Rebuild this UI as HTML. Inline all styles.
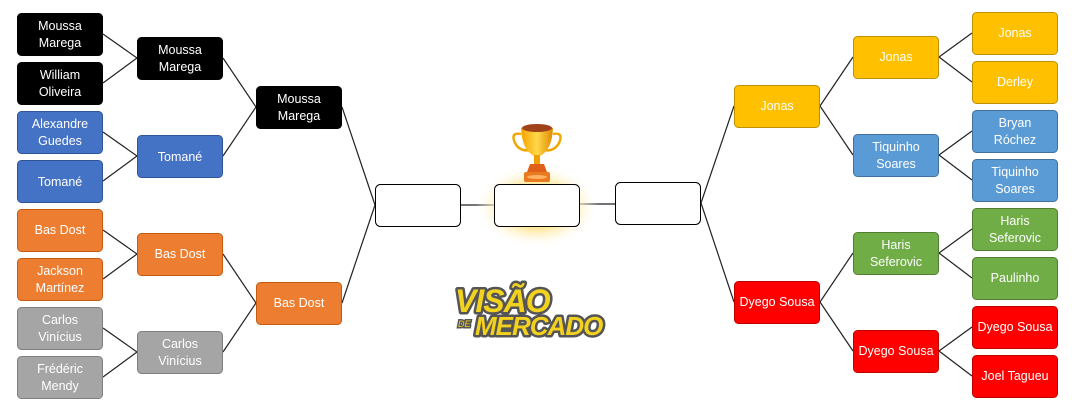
<!DOCTYPE html>
<html><head><meta charset="utf-8"><style>
html,body{margin:0;padding:0;background:#fff;width:1072px;height:414px;overflow:hidden}
svg text{font-family:"Liberation Sans",sans-serif;font-size:12.5px;fill:#fff;text-anchor:middle}
</style></head><body>
<svg width="1072" height="414" viewBox="0 0 1072 414" xmlns="http://www.w3.org/2000/svg">
<defs>
<radialGradient id="glow" cx="0.5" cy="0.5" r="0.5"><stop offset="0.55" stop-color="#ffe9a0"/><stop offset="1" stop-color="#fff" stop-opacity="0"/></radialGradient>
<linearGradient id="gold" x1="0" x2="1"><stop offset="0" stop-color="#f5a300"/><stop offset="0.5" stop-color="#ffd84a"/><stop offset="1" stop-color="#e08a00"/></linearGradient>
</defs>
<g stroke="#222" stroke-width="1.2" fill="none">
<path d="M103 34L137 58M103 83L137 58M103 132L137 156M103 181L137 156M103 230L137 254M103 279L137 254M103 328L137 352M103 377L137 352"/>
<path d="M223 58L256 107M223 156L256 107M223 254L256 303M223 352L256 303"/>
<path d="M342 107L375 205M342 303L375 205M461 205L494 205M580 204L615 204"/>
<path d="M972 33L939 57M972 82L939 57M972 131L939 155M972 180L939 155M972 229L939 253M972 278L939 253M972 327L939 351M972 376L939 351"/>
<path d="M853 57L820 106M853 155L820 106M853 253L820 302M853 351L820 302"/>
<path d="M734 106L701 203M734 302L701 203"/>
</g>
<ellipse cx="537" cy="206" rx="62" ry="42" fill="url(#glow)"/>
<g stroke-width="1">
<rect x="375.5" y="184.5" width="85" height="42" rx="5" fill="#fff" stroke="#000"/>
<rect x="494.5" y="184.5" width="85" height="42" rx="5" fill="#fff" stroke="#000"/>
<rect x="615.5" y="182.5" width="85" height="42" rx="5" fill="#fff" stroke="#000"/>
<rect x="17.5" y="13.5" width="85" height="42" rx="4" fill="#000" stroke="#000"/>
<rect x="17.5" y="62.5" width="85" height="42" rx="4" fill="#000" stroke="#000"/>
<rect x="17.5" y="111.5" width="85" height="42" rx="4" fill="#4472c4" stroke="#2f5597"/>
<rect x="17.5" y="160.5" width="85" height="42" rx="4" fill="#4472c4" stroke="#2f5597"/>
<rect x="17.5" y="209.5" width="85" height="42" rx="4" fill="#ed7d31" stroke="#c55a11"/>
<rect x="17.5" y="258.5" width="85" height="42" rx="4" fill="#ed7d31" stroke="#c55a11"/>
<rect x="17.5" y="307.5" width="85" height="42" rx="4" fill="#a5a5a5" stroke="#7f7f7f"/>
<rect x="17.5" y="356.5" width="85" height="42" rx="4" fill="#a5a5a5" stroke="#7f7f7f"/>
<rect x="137.5" y="37.5" width="85" height="42" rx="4" fill="#000" stroke="#000"/>
<rect x="137.5" y="135.5" width="85" height="42" rx="4" fill="#4472c4" stroke="#2f5597"/>
<rect x="137.5" y="233.5" width="85" height="42" rx="4" fill="#ed7d31" stroke="#c55a11"/>
<rect x="137.5" y="331.5" width="85" height="42" rx="4" fill="#a5a5a5" stroke="#7f7f7f"/>
<rect x="256.5" y="86.5" width="85" height="42" rx="4" fill="#000" stroke="#000"/>
<rect x="256.5" y="282.5" width="85" height="42" rx="4" fill="#ed7d31" stroke="#c55a11"/>
<rect x="734.5" y="85.5" width="85" height="42" rx="4" fill="#ffc000" stroke="#bf9000"/>
<rect x="734.5" y="281.5" width="85" height="42" rx="4" fill="#ff0000" stroke="#c00000"/>
<rect x="853.5" y="36.5" width="85" height="42" rx="4" fill="#ffc000" stroke="#bf9000"/>
<rect x="853.5" y="134.5" width="85" height="42" rx="4" fill="#5b9bd5" stroke="#41719c"/>
<rect x="853.5" y="232.5" width="85" height="42" rx="4" fill="#70ad47" stroke="#507e32"/>
<rect x="853.5" y="330.5" width="85" height="42" rx="4" fill="#ff0000" stroke="#c00000"/>
<rect x="972.5" y="12.5" width="85" height="42" rx="4" fill="#ffc000" stroke="#bf9000"/>
<rect x="972.5" y="61.5" width="85" height="42" rx="4" fill="#ffc000" stroke="#bf9000"/>
<rect x="972.5" y="110.5" width="85" height="42" rx="4" fill="#5b9bd5" stroke="#41719c"/>
<rect x="972.5" y="159.5" width="85" height="42" rx="4" fill="#5b9bd5" stroke="#41719c"/>
<rect x="972.5" y="208.5" width="85" height="42" rx="4" fill="#70ad47" stroke="#507e32"/>
<rect x="972.5" y="257.5" width="85" height="42" rx="4" fill="#70ad47" stroke="#507e32"/>
<rect x="972.5" y="306.5" width="85" height="42" rx="4" fill="#ff0000" stroke="#c00000"/>
<rect x="972.5" y="355.5" width="85" height="42" rx="4" fill="#ff0000" stroke="#c00000"/>
</g>
<text x="60" y="30">Moussa</text><text x="60" y="47">Marega</text>
<text x="60" y="79">William</text><text x="60" y="96">Oliveira</text>
<text x="60" y="128">Alexandre</text><text x="60" y="145">Guedes</text>
<text x="60" y="186">Tomané</text>
<text x="60" y="234">Bas Dost</text>
<text x="60" y="275">Jackson</text><text x="60" y="292">Martínez</text>
<text x="60" y="324">Carlos</text><text x="60" y="341">Vinícius</text>
<text x="60" y="373">Frédéric</text><text x="60" y="390">Mendy</text>
<text x="180" y="54">Moussa</text><text x="180" y="71">Marega</text>
<text x="180" y="161">Tomané</text>
<text x="180" y="258">Bas Dost</text>
<text x="180" y="348">Carlos</text><text x="180" y="365">Vinícius</text>
<text x="299" y="103">Moussa</text><text x="299" y="120">Marega</text>
<text x="299" y="307">Bas Dost</text>
<text x="777" y="110">Jonas</text>
<text x="777" y="306">Dyego Sousa</text>
<text x="896" y="61">Jonas</text>
<text x="896" y="151">Tiquinho</text><text x="896" y="168">Soares</text>
<text x="896" y="249">Haris</text><text x="896" y="266">Seferovic</text>
<text x="896" y="355">Dyego Sousa</text>
<text x="1015" y="37">Jonas</text>
<text x="1015" y="86">Derley</text>
<text x="1015" y="127">Bryan</text><text x="1015" y="144">Róchez</text>
<text x="1015" y="176">Tiquinho</text><text x="1015" y="193">Soares</text>
<text x="1015" y="225">Haris</text><text x="1015" y="242">Seferovic</text>
<text x="1015" y="282">Paulinho</text>
<text x="1015" y="331">Dyego Sousa</text>
<text x="1015" y="380">Joel Tagueu</text>
<g>
<path d="M521 134 Q510 132 515 143 Q520 152 530 150" fill="none" stroke="#f0a800" stroke-width="2.5"/>
<path d="M553 134 Q564 132 559 143 Q554 152 544 150" fill="none" stroke="#f0a800" stroke-width="2.5"/>
<path d="M521 128 Q537 122 553 128 Q552 150 540 156 L534 156 Q522 150 521 128Z" fill="url(#gold)"/>
<ellipse cx="537" cy="128" rx="15" ry="4" fill="#a0421a"/>
<rect x="534" y="155" width="6" height="10" fill="#f0a000"/>
<path d="M527 172 L530 164 L544 164 L547 172Z" fill="#e0601a"/>
<rect x="524" y="172" width="26" height="10" rx="2" fill="#e87a20"/>
<ellipse cx="537" cy="177" rx="10" ry="2" fill="#ffb060"/>
</g>
<g>
<text x="455" y="312" style="font-size:32px;fill:#f2d21e;text-anchor:start;font-style:italic;font-weight:bold;stroke:#555;stroke-width:5;stroke-linejoin:round;paint-order:stroke;letter-spacing:-1px">VISÃO</text>
<text x="458" y="327" style="font-size:9px;fill:#f2d21e;text-anchor:start;font-style:italic;stroke:#555;stroke-width:3;paint-order:stroke">DE</text>
<text x="475" y="335" style="font-size:26px;fill:#f2d21e;text-anchor:start;font-style:italic;font-weight:bold;stroke:#555;stroke-width:5;stroke-linejoin:round;paint-order:stroke;letter-spacing:-1px">MERCADO</text>
</g>
</svg>
</body></html>
